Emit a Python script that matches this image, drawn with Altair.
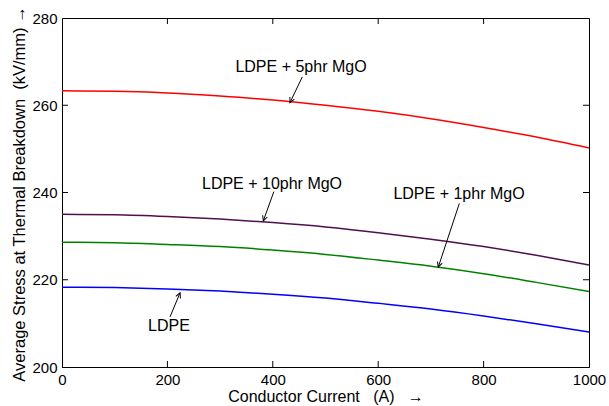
import math
import altair as alt
import pandas as pd

# ---------------- data ----------------
current = [0, 100, 200, 300, 400, 500, 600, 700, 800, 900, 1000]
ldpe = [218.3, 218.2, 217.9, 217.4, 216.7, 215.8, 214.6, 213.3, 211.7, 209.9, 208.0]
mgo_1phr = [228.6, 228.5, 228.1, 227.6, 226.8, 225.8, 224.5, 223.1, 221.4, 219.4, 217.3]
mgo_5phr = [263.3, 263.2, 262.8, 262.1, 261.2, 260.0, 258.6, 256.9, 254.9, 252.7, 250.2]
mgo_10phr = [235.0, 234.9, 234.5, 233.9, 233.1, 232.1, 230.8, 229.3, 227.6, 225.6, 223.4]

series_names = ["LDPE", "LDPE + 1phr MgO", "LDPE + 5phr MgO", "LDPE + 10phr MgO"]
series_values = [ldpe, mgo_1phr, mgo_5phr, mgo_10phr]
series_colors = ["#0000ff", "#008000", "#ff0000", "#501050"]

label_text = ["LDPE + 5phr MgO", "LDPE + 10phr MgO", "LDPE + 1phr MgO", "LDPE"]
label_x = [453.5, 398.5, 753.3, 203.0]
label_y = [268.8, 242.0, 239.7, 209.5]
arrow_x = [456.0, 402.0, 754.0, 205.0]
arrow_y = [266.5, 240.2, 237.5, 211.5]
arrow_x2 = [432.6, 382.0, 714.0, 224.0]
arrow_y2 = [260.6, 233.5, 222.9, 217.0]

x_ticks = [200, 400, 600, 800]
y_ticks = [220, 240, 260]

NB = "\u00a0"
x_title = "Conductor Current" + NB * 3 + "(A)" + NB * 3 + "→"
y_title = "Average Stress at Thermal Breakdown" + NB * 2 + "(kV/mm)" + NB + "→"

# ---------------- layout ----------------
W, H = 527, 349
X_DOM = [0, 1000]
Y_DOM = [200, 280]
FONT = "Liberation Sans"

rows = []
for name, vals in zip(series_names, series_values):
    for c, v in zip(current, vals):
        rows.append({"current": c, "stress": v, "series": name})
df = pd.DataFrame(rows)

ann = pd.DataFrame({
    "text": label_text, "lx": label_x, "ly": label_y,
    "ax": arrow_x, "ay": arrow_y, "ax2": arrow_x2, "ay2": arrow_y2,
})
# arrowhead orientation (clockwise from up) in screen space
ann["angle"] = [
    (math.degrees(math.atan2((x2 - x1) * W / (X_DOM[1] - X_DOM[0]),
                             (y2 - y1) * H / (Y_DOM[1] - Y_DOM[0]))) + 360) % 360
    for x1, y1, x2, y2 in zip(arrow_x, arrow_y, arrow_x2, arrow_y2)
]

xs = alt.Scale(domain=X_DOM, nice=False, zero=False)
ys = alt.Scale(domain=Y_DOM, nice=False, zero=False)

lines = alt.Chart(df).mark_line(strokeWidth=1.5, interpolate="monotone").encode(
    x=alt.X("current:Q", scale=xs,
            axis=alt.Axis(title=x_title,
                          values=[0, 200, 400, 600, 800, 1000], format="d",
                          titleY=29, titleX=W / 2, titleBaseline="middle",
                          titleAlign="center")),
    y=alt.Y("stress:Q", scale=ys,
            axis=alt.Axis(title=y_title,
                          values=[200, 220, 240, 260, 280], format="d",
                          titleX=-43, titleY=H / 2 + 1, titleAngle=-90,
                          titleFontSize=16.5,
                          titleBaseline="middle", titleAlign="center")),
    color=alt.Color("series:N", scale=alt.Scale(domain=series_names, range=series_colors),
                    legend=None),
    detail="series:N",
)

xt = pd.DataFrame({"t": x_ticks})
yt = pd.DataFrame({"t": y_ticks})
TL = 6
xtick_b = alt.Chart(xt).mark_rule(color="black", strokeWidth=1).encode(
    x=alt.X("t:Q", scale=xs), y=alt.value(H), y2=alt.value(H - TL))
xtick_t = alt.Chart(xt).mark_rule(color="black", strokeWidth=1).encode(
    x=alt.X("t:Q", scale=xs), y=alt.value(0), y2=alt.value(TL))
ytick_l = alt.Chart(yt).mark_rule(color="black", strokeWidth=1).encode(
    y=alt.Y("t:Q", scale=ys), x=alt.value(0), x2=alt.value(TL))
ytick_r = alt.Chart(yt).mark_rule(color="black", strokeWidth=1).encode(
    y=alt.Y("t:Q", scale=ys), x=alt.value(W), x2=alt.value(W - TL))

labels = alt.Chart(ann).mark_text(font=FONT, fontSize=16, color="black",
                                  align="center", baseline="middle").encode(
    x=alt.X("lx:Q", scale=xs), y=alt.Y("ly:Q", scale=ys), text="text:N")

shafts = alt.Chart(ann).mark_rule(color="black", strokeWidth=1).encode(
    x=alt.X("ax:Q", scale=xs), y=alt.Y("ay:Q", scale=ys),
    x2="ax2:Q", y2="ay2:Q")

heads = alt.Chart(ann).mark_point(
    shape="M -0.5 1 L 0 0 L 0.5 1", filled=False, color="black",
    strokeWidth=1, size=100, opacity=1).encode(
    x=alt.X("ax2:Q", scale=xs), y=alt.Y("ay2:Q", scale=ys),
    angle=alt.Angle("angle:Q", scale=None))

chart = alt.layer(lines, xtick_b, xtick_t, ytick_l, ytick_r, shafts, heads, labels).properties(
    width=W, height=H,
    background="white",
    autosize=alt.AutoSizeParams(type="none"),
    padding={"left": 62, "top": 18, "right": 20, "bottom": 39},
).configure_view(stroke="black", strokeWidth=1).configure_axis(
    grid=False, ticks=False, domain=True, domainColor="black",
    labelFont=FONT, labelFontSize=15, labelColor="black", labelPadding=5,
    labelFlush=False,
    titleFont=FONT, titleFontSize=16, titleFontWeight="normal", titleColor="black",
)

chart.save("out.html", embed_options={"renderer": "svg", "actions": False})
